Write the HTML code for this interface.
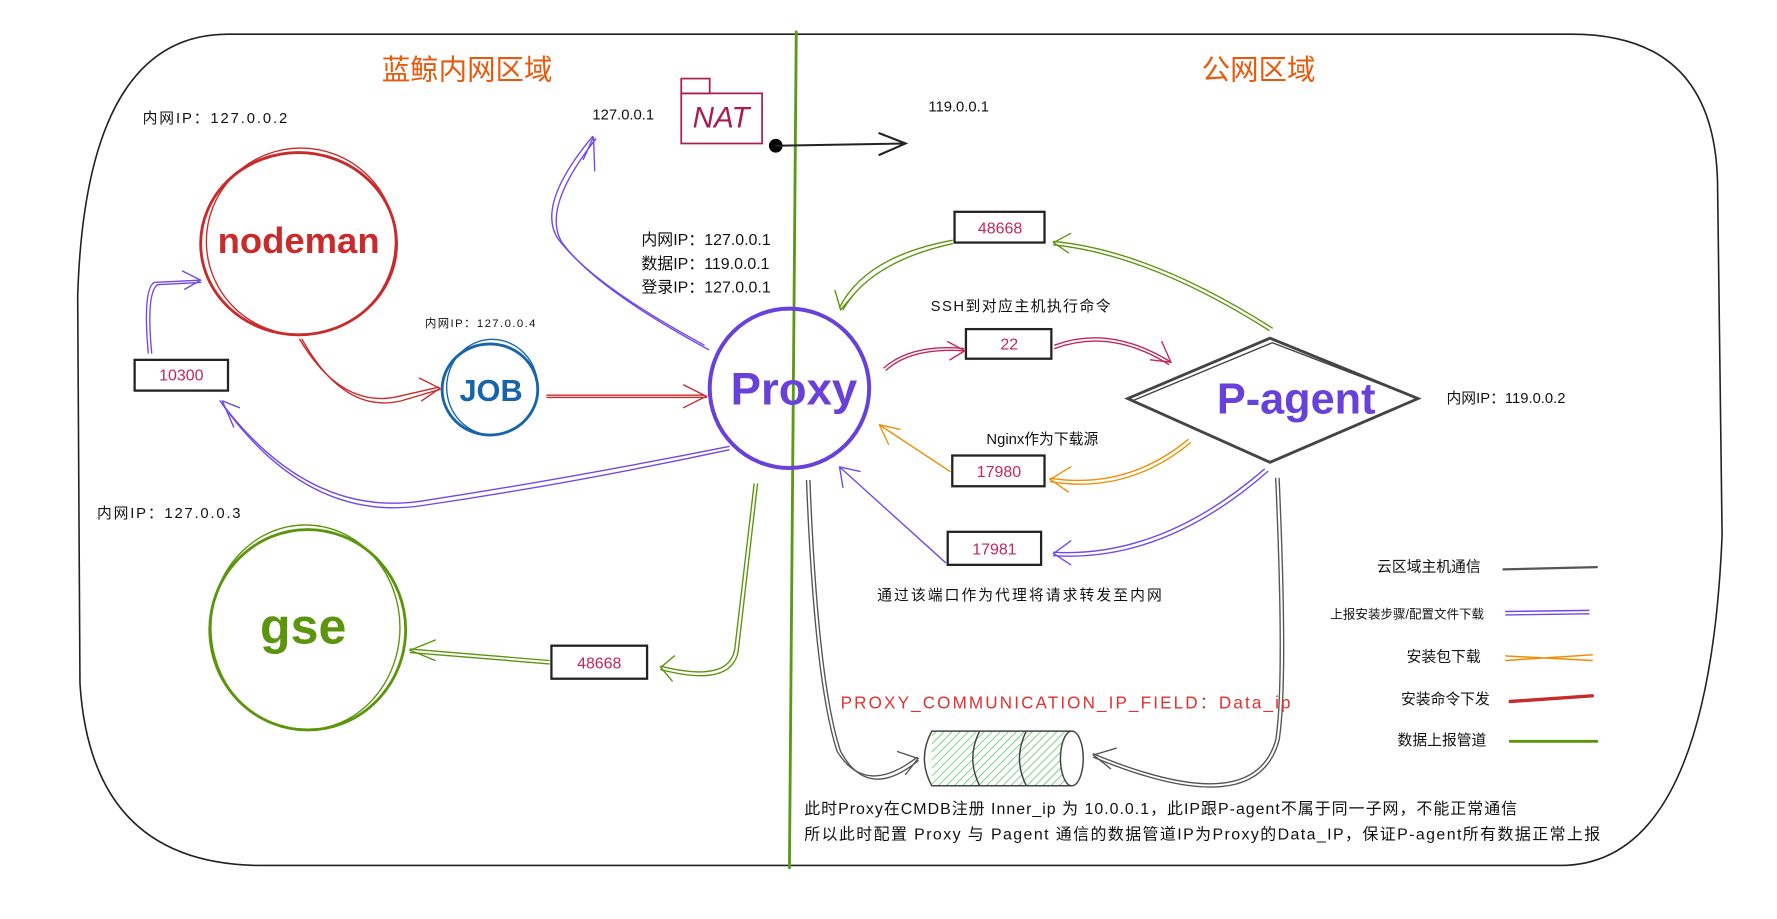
<!DOCTYPE html>
<html><head><meta charset="utf-8"><style>
html,body{margin:0;padding:0;background:#fff;}
svg{display:block;}
text{font-family:"Liberation Sans","Noto Sans CJK SC",sans-serif;}
</style></head><body>
<svg width="1777" height="919" viewBox="0 0 1560 807" xmlns="http://www.w3.org/2000/svg">
<defs>
<pattern id="h" width="5" height="5" patternUnits="userSpaceOnUse" patternTransform="rotate(45)">
<rect width="5" height="5" fill="#fff"/><line x1="0" y1="0" x2="0" y2="5" stroke="#40c057" stroke-width="1.2"/></pattern>
</defs>
<g fill="none" stroke-linecap="round">
<path d="M200 30 H1380 Q1505 30 1508 160 L1512 470 Q1500 760 1370 760 H230 Q80 760 70 600 L68 260 Q75 30 200 30 Z" stroke="#222" stroke-width="1.4"/>
<line x1="699" y1="28" x2="693" y2="762" stroke="#5a9a16" stroke-width="2.5"/>

<ellipse cx="262" cy="214" rx="86" ry="80" stroke="#c92a2a" stroke-width="2.5"/>
<ellipse cx="264" cy="212" rx="83" ry="82" stroke="#c92a2a" stroke-width="1.2"/>
<ellipse cx="430" cy="342" rx="42" ry="40" stroke="#1864ab" stroke-width="2.5"/>
<ellipse cx="432" cy="340" rx="40" ry="42" stroke="#1864ab" stroke-width="1.2"/>
<ellipse cx="693" cy="341" rx="70" ry="70" stroke="#6741d9" stroke-width="3.5"/>
<ellipse cx="270" cy="553" rx="86" ry="88" stroke="#5c940d" stroke-width="2.5"/>
<ellipse cx="268" cy="551" rx="83" ry="90" stroke="#5c940d" stroke-width="1.2"/>

<rect x="598" y="82" width="71" height="44" stroke="#a61e4d" stroke-width="1.5"/>
<rect x="598" y="69" width="25" height="13" stroke="#a61e4d" stroke-width="1.5"/>
<circle cx="681" cy="128" r="6" fill="#000" stroke="none"/>
<path d="M681 128 L795 126 M772 117 L795 126 L772 136" stroke="#222" stroke-width="1.8"/>

<g stroke="#222" stroke-width="2">
<rect x="118" y="316" width="82" height="27"/>
<rect x="838" y="186" width="79" height="27"/>
<rect x="848" y="289" width="75" height="26"/>
<rect x="836" y="400" width="81" height="27"/>
<rect x="832" y="467" width="82" height="29"/>
<rect x="484" y="567" width="84" height="29"/>
</g>

<path d="M990 350 L1115 297 L1245 350 L1115 406 Z" stroke="#444" stroke-width="2.5"/>
<path d="M994 352 L1117 301 L1240 348" stroke="#444" stroke-width="1.2"/>

<g stroke="#c92a2a" stroke-width="1.2">
<path d="M263 298 Q300 360 350 348 L385 340"/><path d="M265 298 Q302 364 352 352 L386 342"/>
<path d="M368 332 L386 341 L370 352"/>
<path d="M480 347 L618 347"/><path d="M480 349 L620 349"/><path d="M600 338 L620 348 L600 358"/>
</g>
<g stroke="#c2255c" stroke-width="1.2">
<path d="M778 325 Q800 305 846 308"/><path d="M776 323 Q800 302 846 306"/><path d="M832 300 L847 308 L834 316"/>
<path d="M926 303 Q975 285 1028 318"/><path d="M926 306 Q975 288 1026 320"/><path d="M1020 300 L1028 318 L1010 316"/>
</g>
<g stroke="#7048e8" stroke-width="1.2">
<path d="M618 303 Q520 250 490 210 Q470 180 520 120"/><path d="M622 307 Q524 254 494 214 Q474 184 523 122"/>
<path d="M512 140 L521 120 L522 150"/>
<path d="M640 392 Q500 420 370 440 Q270 455 193 352"/><path d="M640 395 Q500 425 370 444 Q270 459 195 355"/>
<path d="M195 352 L205 375 M195 352 L210 358"/>
<path d="M130 310 Q125 255 135 248 L175 246"/><path d="M133 310 Q128 258 138 250 L176 248"/>
<path d="M160 238 L176 246 L162 254"/>
<path d="M830 494 L737 410"/><path d="M737 410 L740 428 M737 410 L755 414"/>
<path d="M1110 412 Q1020 490 925 485"/><path d="M1113 414 Q1022 494 925 488"/><path d="M940 475 L925 486 L940 496"/>
</g>
<g stroke="#f08c00" stroke-width="1.2">
<path d="M834 414 L772 373"/><path d="M772 373 L780 390 M772 373 L790 377"/>
<path d="M1043 386 Q990 430 922 420"/><path d="M1045 389 Q990 434 922 423"/><path d="M940 410 L922 421 L938 432"/>
</g>
<g stroke="#5c940d" stroke-width="1.2">
<path d="M836 211 Q760 225 737 270"/><path d="M836 214 Q764 230 740 272"/><path d="M733 255 L738 272 L750 258"/>
<path d="M1117 288 Q1010 220 925 212"/><path d="M1114 290 Q1010 224 925 215"/><path d="M940 205 L925 213 L938 222"/>
<path d="M482 580 L360 570"/><path d="M482 583 L360 573"/><path d="M382 562 L360 571 L382 580"/>
<path d="M662 425 Q650 530 645 570 Q640 600 580 585"/><path d="M665 425 Q653 530 648 572 Q642 604 580 588"/>
<path d="M592 576 L580 586 L590 598"/>
</g>
<g stroke="#555" stroke-width="1.2">
<path d="M708 422 Q715 600 735 660 Q760 700 805 665"/><path d="M711 422 Q718 600 738 660 Q762 704 806 668"/>
<path d="M788 660 L806 666 L795 680"/>
<path d="M1120 420 Q1128 600 1120 650 Q1100 720 960 662"/><path d="M1123 420 Q1131 600 1123 650 Q1103 724 960 665"/>
<path d="M980 657 L960 663 L975 675"/>
</g>
<path d="M818 642 H940 V690 H818 Z" fill="url(#h)" stroke="none"/>
<path d="M818 642 H940 M818 690 H940 M818 642 Q805 666 818 690 M860 642 Q848 666 860 690 M901 642 Q889 666 901 690" stroke="#444" stroke-width="1.3"/>
<ellipse cx="941" cy="666" rx="10" ry="24" fill="#fff" stroke="#444" stroke-width="1.3"/>

<path d="M1320 500 L1402 498" stroke="#555" stroke-width="2"/>
<path d="M1322 537 L1395 536 M1322 540 L1395 539" stroke="#7048e8" stroke-width="1.3"/>
<path d="M1322 576 L1398 580 M1322 580 L1398 575" stroke="#f08c00" stroke-width="1.3"/>
<path d="M1326 616 L1398 611" stroke="#c92a2a" stroke-width="3"/>
<path d="M1326 651 L1402 651" stroke="#5c940d" stroke-width="2.5"/>
</g>

<g font-size="13" fill="#111">
<text x="125" y="108" textLength="127">内网IP：127.0.0.2</text>
<text x="373" y="287" font-size="10" textLength="97">内网IP：127.0.0.4</text>
<text x="520" y="105">127.0.0.1</text>
<text x="815" y="98">119.0.0.1</text>
<text x="563" y="215" font-size="14">内网IP：127.0.0.1</text>
<text x="563" y="236" font-size="14">数据IP：119.0.0.1</text>
<text x="563" y="257" font-size="14">登录IP：127.0.0.1</text>
<text x="817" y="273" textLength="158">SSH到对应主机执行命令</text>
<text x="1270" y="354">内网IP：119.0.0.2</text>
<text x="866" y="390">Nginx作为下载源</text>
<text x="770" y="527" textLength="250">通过该端口作为代理将请求转发至内网</text>
<text x="85" y="455" textLength="126">内网IP：127.0.0.3</text>
<text x="706" y="715" font-size="14" textLength="626">此时Proxy在CMDB注册 Inner_ip 为 10.0.0.1，此IP跟P-agent不属于同一子网，不能正常通信</text>
<text x="706" y="737" font-size="14" textLength="699">所以此时配置 Proxy 与 Pagent 通信的数据管道IP为Proxy的Data_IP，保证P-agent所有数据正常上报</text>
<g text-anchor="end">
<text x="1300" y="502">云区域主机通信</text>
<text x="1303" y="543" font-size="11">上报安装步骤/配置文件下载</text>
<text x="1300" y="581">安装包下载</text>
<text x="1308" y="618">安装命令下发</text>
<text x="1305" y="654">数据上报管道</text>
</g>
</g>
<g fill="#e8590c" font-size="25">
<text x="335" y="70">蓝鲸内网区域</text>
<text x="1055" y="70">公网区域</text>
</g>
<g fill="#c2255c" font-size="14" text-anchor="middle">
<text x="159" y="334">10300</text>
<text x="878" y="205">48668</text>
<text x="886" y="307">22</text>
<text x="877" y="419">17980</text>
<text x="873" y="487">17981</text>
<text x="526" y="587">48668</text>
</g>
<text x="633" y="112" text-anchor="middle" font-size="26" fill="#a61e4d" font-style="italic">NAT</text>
<text x="262" y="222" text-anchor="middle" font-size="32" font-weight="bold" fill="#c92a2a">nodeman</text>
<text x="431" y="352" text-anchor="middle" font-size="27" fill="#1864ab" font-weight="bold">JOB</text>
<text x="697" y="355" text-anchor="middle" font-size="40" font-weight="bold" fill="#6741d9">Proxy</text>
<text x="1138" y="363" text-anchor="middle" font-size="38" font-weight="bold" fill="#6741d9">P-agent</text>
<text x="266" y="565" text-anchor="middle" font-size="44" font-weight="bold" fill="#5c940d">gse</text>
<text x="738" y="622" font-size="15" fill="#e03131" textLength="395">PROXY_COMMUNICATION_IP_FIELD：Data_ip</text>
</svg>
</body></html>
